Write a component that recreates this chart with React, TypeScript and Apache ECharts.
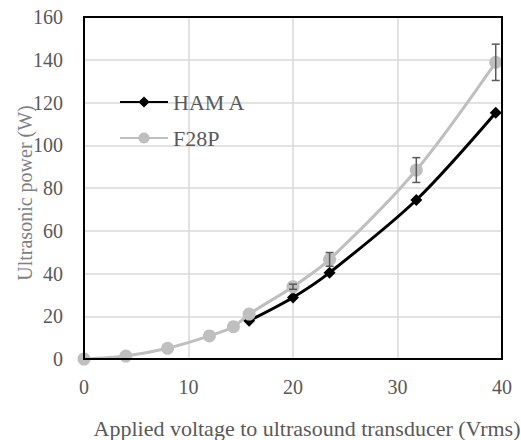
import React, { useEffect, useRef } from "react";
import * as echarts from "echarts";

const hamX = [15.8, 20, 23.5, 31.8, 39.4];
const hamY = [17.9, 28.8, 40.4, 74.4, 115.2];
const f28X = [0, 4, 8, 12, 14.3, 15.8, 20, 23.5, 31.8, 39.4];
const f28Y = [0, 1.4, 5.0, 10.8, 15.1, 21.0, 33.8, 46.6, 88.4, 138.8];
const errX = [20, 23.5, 31.8, 39.4];
const errY = [33.8, 46.6, 88.4, 138.8];
const errD = [1.2, 3.2, 5.8, 8.5];

const FONT = "Liberation Serif";
const TXT = "#595959";

export default function App() {
  const ref = useRef<HTMLDivElement>(null);
  useEffect(() => {
    const chart = echarts.init(ref.current!, null, { renderer: "svg" });
    const ts = (size: number, color: string) => ({ fontFamily: FONT, fontSize: size, color });
    chart.setOption({
      animation: false,
      grid: { left: 84, right: 19, top: 17, bottom: 81 },
      legend: {
        orient: "vertical",
        left: 114,
        top: 86,
        itemWidth: 48,
        itemHeight: 14,
        itemGap: 14,
        textStyle: ts(22, TXT),
        data: ["HAM A", "F28P"],
      },
      xAxis: {
        type: "value",
        min: 0,
        max: 40,
        interval: 10,
        axisLine: { show: true, lineStyle: { color: "#000", width: 2 } },
        axisTick: { show: false },
        axisLabel: { margin: 18, ...ts(20, TXT) },
        splitLine: { show: true, lineStyle: { color: "#d9d9d9", width: 1.5 } },
      },
      yAxis: {
        type: "value",
        min: 0,
        max: 160,
        interval: 20,
        axisLine: { show: true, lineStyle: { color: "#000", width: 2 } },
        axisTick: { show: false },
        axisLabel: { margin: 21, ...ts(20, TXT) },
        splitLine: { show: true, lineStyle: { color: "#d9d9d9", width: 1.5 } },
      },
      series: [
        {
          name: "HAM A",
          type: "line",
          smooth: 0.3,
          data: hamX.map((x, i) => [x, hamY[i]]),
          symbol: "diamond",
          symbolSize: 12,
          itemStyle: { color: "#000" },
          lineStyle: { color: "#000", width: 3 },
          z: 3,
        },
        {
          name: "F28P",
          type: "line",
          smooth: 0.3,
          data: f28X.map((x, i) => [x, f28Y[i]]),
          symbol: "circle",
          symbolSize: 13,
          itemStyle: { color: "#bfbfbf" },
          lineStyle: { color: "#bfbfbf", width: 3 },
          z: 4,
        },
        {
          name: "err",
          type: "custom",
          z: 5,
          data: errX.map((x, i) => [x, errY[i], errD[i]]),
          renderItem: (params: any, api: any) => {
            const x = api.value(0);
            const y = api.value(1);
            const d = api.value(2);
            const top = api.coord([x, y + d]);
            const bot = api.coord([x, y - d]);
            const w = 4;
            const style = { stroke: "#595959", lineWidth: 1.5 };
            return {
              type: "group",
              children: [
                { type: "line", shape: { x1: top[0], y1: top[1], x2: bot[0], y2: bot[1] }, style },
                { type: "line", shape: { x1: top[0] - w, y1: top[1], x2: top[0] + w, y2: top[1] }, style },
                { type: "line", shape: { x1: bot[0] - w, y1: bot[1], x2: bot[0] + w, y2: bot[1] }, style },
              ],
            };
          },
        },
      ],
      graphic: [
        {
          type: "rect",
          shape: { x: 84, y: 17, width: 418, height: 342 },
          style: { fill: "none", stroke: "#000", lineWidth: 2 },
          z: 10,
          silent: true,
        },
        {
          type: "text",
          x: 307,
          y: 428,
          style: {
            text: "Applied voltage to ultrasound transducer (Vrms)",
            fontFamily: FONT,
            fontSize: 22,
            fill: TXT,
            align: "center",
            verticalAlign: "middle",
          },
        },
        {
          type: "text",
          x: 25,
          y: 193,
          rotation: Math.PI / 2,
          style: {
            text: "Ultrasonic power (W)",
            fontFamily: FONT,
            fontSize: 20,
            fill: "#7f7f7f",
            align: "center",
            verticalAlign: "middle",
          },
        },
      ],
    });
    return () => chart.dispose();
  }, []);
  return (
    <div
      ref={ref}
      style={{ position: "fixed", left: 0, top: 0, width: 521, height: 440, background: "#fff" }}
    />
  );
}
